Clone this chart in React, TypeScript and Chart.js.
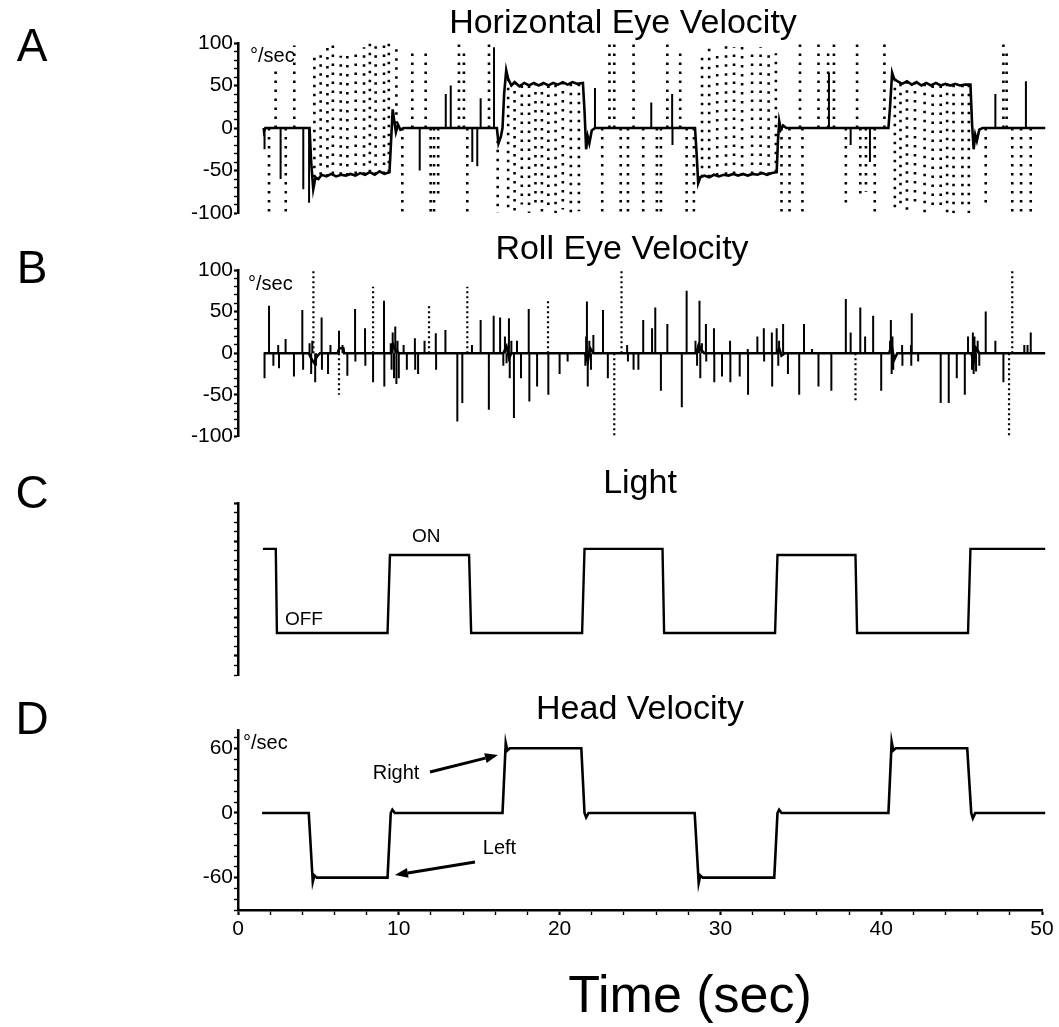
import React, { useEffect, useRef } from "react";
import { Chart, registerables } from "chart.js";

Chart.register(...registerables);

const FONT = "'Liberation Sans', Arial, Helvetica, sans-serif";

// ---------- shared time axis ----------
const timeMin = 0;
const timeMax = 50;
const timeTicks = [0, 2, 4, 6, 8, 10, 12, 14, 16, 18, 20, 22, 24, 26, 28, 30, 32, 34, 36, 38, 40, 42, 44, 46, 48, 50];
const timeLabels = [0, 10, 20, 30, 40, 50];

// ---------- A: horizontal eye velocity ----------
const eyeTicks = [-100, -90, -80, -70, -60, -50, -40, -30, -20, -10, 0, 10, 20, 30, 40, 50, 60, 70, 80, 90, 100];
const eyeLabels = [-100, -50, 0, 50, 100];

// slow-phase trace [t, deg/s]
const hSlow: [number, number][] = [
  [1.6, 0], [1.62, -4], [1.7, 0], [4.45, 0], [4.55, -40], [4.68, -72], [4.82, -58], [5.0, -60], [5.2, -55], [5.5, -57],
  [5.8, -54], [6.1, -57], [6.4, -55], [6.7, -56], [7.0, -54], [7.3, -56], [7.6, -53], [7.9, -55], [8.2, -52], [8.5, -55],
  [8.8, -51], [9.1, -54], [9.42, -52], [9.52, -15], [9.62, 22], [9.72, 8], [9.82, -5], [9.95, 4], [10.1, -2], [10.3, 0],
  [16.1, 0], [16.2, -18], [16.35, -10], [16.45, 0], [16.55, 40], [16.68, 68], [16.8, 58], [17.0, 50], [17.2, 54], [17.5, 49],
  [17.8, 53], [18.1, 50], [18.4, 53], [18.7, 50], [19.0, 53], [19.3, 50], [19.6, 53], [19.9, 51], [20.2, 54], [20.5, 51],
  [20.8, 54], [21.1, 52], [21.45, 53], [21.55, 20], [21.65, -25], [21.75, -10], [21.85, -18], [22.0, -3], [22.2, 0],
  [28.42, 0], [28.52, -30], [28.62, -65], [28.75, -58], [29.0, -56], [29.3, -58], [29.6, -55], [29.9, -57], [30.2, -55],
  [30.5, -56], [30.8, -54], [31.1, -56], [31.4, -54], [31.7, -56], [32.0, -54], [32.3, -55], [32.6, -53], [32.9, -55],
  [33.2, -53], [33.5, -52], [33.58, -15], [33.66, 8], [33.76, -2], [33.9, 3], [34.1, 0], [40.45, 0], [40.55, 25], [40.68, 65],
  [40.8, 58], [41.0, 55], [41.3, 52], [41.6, 55], [41.9, 51], [42.2, 54], [42.5, 50], [42.8, 53], [43.1, 50], [43.4, 53],
  [43.7, 50], [44.0, 52], [44.3, 50], [44.6, 52], [44.9, 50], [45.2, 51], [45.55, 51], [45.65, 5], [45.75, -25], [45.85, -8],
  [45.95, -15], [46.1, -2], [46.3, 0], [50.2, 0],
];

// fast solid saccades from zero [t, peak]
const hSolid: [number, number][] = [
  [1.65, -25], [2.65, -60], [4.06, -72], [4.42, -88], [11.3, -50], [12.92, 40], [13.23, 50], [14.57, -40], [14.88, -45],
  [15.09, 35], [15.92, 95], [22.2, 47], [25.7, 30], [27.0, 40], [27.02, -20], [36.75, 65], [38.1, -20], [39.3, -40],
  [47.1, 40], [49.0, 55],
];

// quick phases drawn dotted [t, from, to]
const hQuick: [number, number, number][] = [
  [1.93, 0, -100], [2.34, 0, 68], [2.97, 0, -100], [3.5, 0, 97],
  [4.75, -58, 88], [5.14, -55, 90], [5.56, -57, 95], [5.9, -54, 100], [6.39, -55, 85], [6.8, -56, 88], [7.32, -54, 92],
  [7.84, -55, 95], [8.2, -52, 100], [8.56, -55, 100], [9.08, -54, 100], [9.38, -52, 100],
  [9.85, 5, 100], [10.22, 0, -100], [10.84, 0, 95], [11.67, 0, 95], [11.98, 0, -100], [12.19, 0, -100], [12.45, 0, -80],
  [13.74, 0, 100], [14.05, 0, 95], [14.26, 0, -100], [15.61, 0, 100], [16.15, -15, -100],
  [16.8, 58, -95], [17.2, 54, -98], [17.65, 50, -90], [18.1, 50, -100], [18.5, 53, -95], [18.9, 53, -100], [19.3, 50, -92],
  [19.75, 51, -100], [20.2, 54, -96], [20.7, 52, -100], [21.2, 52, -98],
  [22.65, 0, -100], [23.1, 0, 100], [23.4, 0, 100], [23.8, 0, -100], [24.25, 0, -100], [24.6, 0, 100], [25.2, 0, -100],
  [26.05, 0, -100], [26.3, 0, -100], [26.7, 0, 100], [27.5, 0, 90], [27.9, 0, -100], [28.35, 0, -100],
  [28.86, -58, 85], [29.3, -58, 100], [29.8, -56, 90], [30.35, -55, 100], [30.85, -54, 95], [31.35, -56, 100],
  [31.97, -54, 92], [32.5, -54, 95], [33.0, -55, 88], [33.45, -52, 88],
  [33.8, 0, -100], [34.3, 0, -100], [34.95, 0, 100], [35.1, 0, -100], [36.1, 0, 100], [36.7, 0, 95], [37.06, 0, 100],
  [37.8, 0, -95], [38.5, 0, 100], [38.7, 0, -80], [39.05, 0, -75], [39.6, 0, -100], [40.2, 0, 100],
  [40.85, 58, -100], [41.2, 52, -95], [41.6, 55, -100], [42.1, 54, -92], [42.7, 52, -100], [43.2, 50, -98], [43.7, 50, -95],
  [44.1, 52, -100], [44.5, 51, -100], [45.05, 51, -95], [45.45, 51, -100],
  [46.5, 0, -95], [47.6, 0, 100], [47.8, 0, 95], [48.15, 0, -100], [48.7, 0, -100], [49.3, 0, -100],
];

// ---------- B: roll eye velocity ----------
const rBase: [number, number][] = [
  [1.6, 0], [4.4, 0], [4.6, -8], [4.75, -12], [4.9, -4], [5.1, 0], [6.2, 0], [6.3, 6], [6.55, 6], [6.6, 0],
  [9.5, 0], [9.65, 10], [9.8, 4], [10.0, 0], [16.5, 0], [16.7, 8], [16.85, -6], [17.0, 0], [21.6, 0], [21.75, -10],
  [21.9, 6], [22.1, 0], [28.5, 0], [28.65, 10], [28.8, 4], [29.0, 0], [33.5, 0], [33.65, 6], [33.8, -3], [34.0, 0],
  [40.5, 0], [40.65, 10], [40.8, -8], [41.0, 0], [45.6, 0], [45.75, -10], [45.9, 6], [46.1, 0], [50.2, 0],
];

const rSolid: [number, number][] = [
  [1.65, -30], [1.93, 57], [2.2, -15], [2.5, 10], [2.55, -18], [2.96, 17], [3.48, -28], [4.0, 52], [4.05, -20],
  [4.45, 12], [4.55, -25], [4.62, 15], [4.8, -35], [4.85, -15], [5.2, 43], [5.22, -20], [5.6, -25], [5.75, 10],
  [6.28, 27], [6.5, 10], [6.8, -27], [7.28, 53], [7.3, -10], [7.9, 30], [7.92, -15], [8.4, -35], [9.08, 63], [9.1, -40],
  [9.5, 12], [9.55, -20], [9.62, 25], [9.7, -30], [9.78, 32], [9.85, -37], [9.92, 15], [10.0, -30], [10.3, 10],
  [10.5, -20], [11.0, 18], [11.02, -20], [11.2, -25], [11.6, 15], [12.3, 24], [12.32, -20], [12.9, 28], [13.64, -82],
  [13.95, -60], [14.55, 10], [15.09, 40], [15.6, -68], [15.9, 45], [16.3, 43], [16.5, -15], [16.6, 20], [16.7, -12],
  [16.85, 42], [16.9, -30], [17.0, 15], [17.16, -78], [17.35, 15], [17.6, -30], [18.08, 53], [18.12, -58], [18.6, -40],
  [19.3, -50], [20.0, -25], [20.5, -10], [21.6, -15], [21.65, 20], [21.7, 62], [21.75, -40], [21.85, 15], [21.95, -20],
  [22.1, 22], [22.7, 52], [23.0, -30], [24.2, 10], [24.25, -10], [24.6, -20], [24.9, -20], [25.2, 40], [25.75, 30],
  [25.95, 55], [26.3, -45], [26.7, 35], [27.6, -65], [27.9, 75], [28.45, 15], [28.55, -15], [28.62, 10], [28.7, 63],
  [28.75, -30], [28.85, 12], [29.1, 35], [29.12, -10], [29.6, 30], [29.62, -35], [30.1, -28], [30.6, 15], [30.62, -35],
  [31.2, -28], [31.7, 5], [31.72, -50], [32.3, 20], [32.7, 30], [32.72, -10], [33.2, 25], [33.22, -40], [33.5, 30],
  [33.6, -15], [33.65, 15], [33.9, 35], [34.2, -25], [34.9, -50], [35.2, 35], [35.7, 5], [36.1, -40], [36.9, -45],
  [37.8, 65], [38.1, 25], [38.7, 55], [39.0, 20], [39.5, 45], [40.0, -45], [40.55, 15], [40.6, 40], [40.65, -25],
  [40.7, 20], [40.75, -20], [41.3, 10], [41.32, -15], [41.85, 10], [41.87, -15], [41.9, 48], [42.3, -10], [43.7, -60],
  [44.2, -60], [44.7, -30], [45.2, -50], [45.4, 20], [45.65, -20], [45.7, 25], [45.75, -25], [45.8, 20], [45.9, -22],
  [46.0, 15], [46.1, -15], [46.5, 50], [47.1, 15], [47.6, -35], [48.9, 10], [49.1, 10], [49.3, 25],
];

const rQuick: [number, number][] = [
  [4.69, 100], [6.28, -50], [8.4, 80], [11.88, 60], [14.26, 80], [19.28, 65], [23.4, -100], [23.85, 100],
  [38.4, -60], [47.95, -100], [48.15, 100],
];

// ---------- C: light ----------
const LIGHT_ON = 2.8;
const LIGHT_ON_LOW = 2.64;
const LIGHT_OFF = 0.6;
const light: [number, number][] = [
  [1.55, LIGHT_ON], [2.35, LIGHT_ON], [2.42, LIGHT_OFF], [9.3, LIGHT_OFF], [9.45, LIGHT_ON_LOW], [14.37, LIGHT_ON_LOW],
  [14.5, LIGHT_OFF], [21.4, LIGHT_OFF], [21.55, LIGHT_ON], [26.4, LIGHT_ON], [26.5, LIGHT_OFF], [33.4, LIGHT_OFF],
  [33.55, LIGHT_ON_LOW], [38.4, LIGHT_ON_LOW], [38.5, LIGHT_OFF], [45.4, LIGHT_OFF], [45.55, LIGHT_ON], [50.2, LIGHT_ON],
];
const lightTicks = [-0.5, -0.25, 0, 0.25, 0.5, 0.75, 1, 1.25, 1.5, 1.75, 2, 2.25, 2.5, 2.75, 3, 3.25, 3.5, 3.75, 4];
const lightMajor = [0, 1, 2, 3, 4];
const lightNotes = [
  { text: "ON", t: 11.7, v: 3.12 },
  { text: "OFF", t: 4.1, v: 0.95 },
];

// ---------- D: head velocity ----------
const head: [number, number][] = [
  [1.5, 0], [4.4, 0], [4.65, -64], [4.75, -58], [4.9, -60], [9.3, -60], [9.5, 0], [9.6, 3], [9.75, 0], [16.45, 0],
  [16.65, 65], [16.75, 58], [16.9, 60], [21.35, 60], [21.55, 0], [21.65, -4], [21.8, 0], [28.4, 0], [28.65, -65],
  [28.75, -58], [28.9, -60], [33.35, -60], [33.55, 0], [33.65, 3], [33.8, 0], [40.45, 0], [40.65, 66], [40.75, 58],
  [40.9, 60], [45.35, 60], [45.6, 0], [45.7, -5], [45.85, 0], [50.2, 0],
];
const headTicks = [-90, -80, -70, -60, -50, -40, -30, -20, -10, 0, 10, 20, 30, 40, 50, 60, 70];
const headLabels = [-60, 0, 60];
const headNotes = [
  { text: "Right", t: 9.83, v: 37 },
  { text: "Left", t: 16.26, v: -32.5 },
];
const headArrows = [
  { from: [11.94, 38], to: [16.17, 53.8] },
  { from: [14.74, -45.5], to: [9.76, -57.5] },
];

// ---------- helpers ----------
const pts = (arr: [number, number][]) => arr.map(([x, y]) => ({ x, y }));
const sticks = (arr: [number, number, number][]) => {
  const out: any[] = [];
  arr.forEach(([t, a, b]) => {
    out.push({ x: t, y: a }, { x: t, y: b }, { x: t, y: null });
  });
  return out;
};
const fromZero = (arr: [number, number][]) => sticks(arr.map(([t, v]) => [t, 0, v] as [number, number, number]));

const W = 1059;
const LEFT = 238;
const RIGHT = 1042;
const TICK_FONT = 21;

const yAxis = (min: number, max: number, ticks: number[], major: number[], showLabels: boolean) => ({
  type: "linear",
  min,
  max,
  afterFit: (s: any) => {
    s.width = LEFT;
  },
  afterBuildTicks: (s: any) => {
    s.ticks = ticks.map((v) => ({ value: v }));
  },
  ticks: {
    autoSkip: false,
    padding: 1,
    color: "#000",
    font: { family: FONT, size: TICK_FONT },
    callback: (v: any) => (showLabels && major.includes(v) ? String(v) : ""),
  },
  grid: {
    drawOnChartArea: false,
    drawTicks: true,
    tickLength: 4,
    tickColor: "#000",
    tickWidth: (c: any) => (c.tick && major.includes(c.tick.value) ? 2.2 : 1.4),
  },
  border: { display: true, color: "#000", width: 2.5 },
});

const hiddenX = { type: "linear", min: timeMin, max: timeMax, display: false };

const visibleX = {
  type: "linear",
  min: timeMin,
  max: timeMax,
  afterFit: (s: any) => {
    s.height = 40;
  },
  afterBuildTicks: (s: any) => {
    s.ticks = timeTicks.map((v) => ({ value: v }));
  },
  ticks: {
    autoSkip: false,
    maxRotation: 0,
    padding: 2,
    color: "#000",
    font: { family: FONT, size: TICK_FONT },
    callback: (v: any) => (timeLabels.includes(v) ? String(v) : ""),
  },
  grid: {
    drawOnChartArea: false,
    drawTicks: true,
    tickLength: 5,
    tickColor: "#000",
    tickWidth: (c: any) => (c.tick && timeLabels.includes(c.tick.value) ? 2.2 : 1.4),
  },
  border: { display: true, color: "#000", width: 2.5 },
};

const lineDs = (data: any[], width: number, dash: number[] = []) => ({
  data,
  borderColor: "#000",
  borderWidth: width,
  borderDash: dash,
  pointRadius: 0,
  tension: 0,
  spanGaps: false,
  clip: false,
});

const notesPlugin = (notes: { text: string; t: number; v: number }[], arrows: { from: number[]; to: number[] }[], size: number) => ({
  id: "notes",
  afterDatasetsDraw(chart: any) {
    const { ctx, scales } = chart;
    const x = scales.x;
    const y = scales.y;
    ctx.save();
    ctx.fillStyle = "#000";
    ctx.strokeStyle = "#000";
    ctx.font = `${size}px ${FONT}`;
    ctx.textAlign = "center";
    ctx.textBaseline = "middle";
    notes.forEach((n) => ctx.fillText(n.text, x.getPixelForValue(n.t), y.getPixelForValue(n.v)));
    arrows.forEach((a) => {
      const x1 = x.getPixelForValue(a.from[0]);
      const y1 = y.getPixelForValue(a.from[1]);
      const x2 = x.getPixelForValue(a.to[0]);
      const y2 = y.getPixelForValue(a.to[1]);
      const ang = Math.atan2(y2 - y1, x2 - x1);
      const hl = 13;
      const hw = 5;
      const bx = x2 - hl * Math.cos(ang);
      const by = y2 - hl * Math.sin(ang);
      ctx.lineWidth = 3;
      ctx.beginPath();
      ctx.moveTo(x1, y1);
      ctx.lineTo(bx, by);
      ctx.stroke();
      ctx.beginPath();
      ctx.moveTo(x2, y2);
      ctx.lineTo(bx + hw * Math.sin(ang), by - hw * Math.cos(ang));
      ctx.lineTo(bx - hw * Math.sin(ang), by + hw * Math.cos(ang));
      ctx.closePath();
      ctx.fill();
    });
    ctx.restore();
  },
});

const baseOptions = (padding: any, scales: any) => ({
  animation: false,
  responsive: false,
  devicePixelRatio: 1,
  events: [],
  layout: { padding },
  plugins: { legend: { display: false }, tooltip: { enabled: false }, title: { display: false } },
  scales,
});

const PANELS = [
  { top: 0, height: 230 },
  { top: 230, height: 220 },
  { top: 460, height: 230 },
  { top: 690, height: 262 },
];

function Text({ text, x, y, size, align = "center" }: { text: string; x: number; y: number; size: number; align?: string }) {
  return (
    <div
      style={{
        position: "absolute",
        left: x,
        top: y - size * 0.49,
        fontSize: size,
        lineHeight: 1,
        fontFamily: FONT,
        color: "#000",
        whiteSpace: "nowrap",
        transform: align === "center" ? "translateX(-50%)" : "none",
      }}
    >
      {text}
    </div>
  );
}

export default function App() {
  const refA = useRef<HTMLCanvasElement>(null);
  const refB = useRef<HTMLCanvasElement>(null);
  const refC = useRef<HTMLCanvasElement>(null);
  const refD = useRef<HTMLCanvasElement>(null);

  useEffect(() => {
    Chart.defaults.color = "#000";
    Chart.defaults.font.family = FONT;
    const charts: Chart[] = [];

    charts.push(
      new Chart(refA.current as HTMLCanvasElement, {
        type: "line",
        data: {
          datasets: [
            lineDs(sticks(hQuick), 2.6, [2.5, 6.5]),
            lineDs(fromZero(hSolid), 2),
            lineDs(pts(hSlow), 2.6),
          ],
        },
        options: baseOptions(
          { top: 43, bottom: PANELS[0].height - 213, left: 0, right: W - RIGHT },
          { x: hiddenX, y: yAxis(-100, 100, eyeTicks, eyeLabels, true) }
        ) as any,
      })
    );

    charts.push(
      new Chart(refB.current as HTMLCanvasElement, {
        type: "line",
        data: {
          datasets: [
            lineDs(fromZero(rQuick), 2.2, [2, 3]),
            lineDs(fromZero(rSolid), 2),
            lineDs(pts(rBase), 2.6),
          ],
        },
        options: baseOptions(
          { top: 270 - PANELS[1].top, bottom: PANELS[1].top + PANELS[1].height - 439, left: 0, right: W - RIGHT },
          { x: hiddenX, y: yAxis(-100, 100, eyeTicks, eyeLabels, true) }
        ) as any,
      })
    );

    charts.push(
      new Chart(refC.current as HTMLCanvasElement, {
        type: "line",
        data: { datasets: [lineDs(pts(light), 2.4)] },
        options: baseOptions(
          { top: 503 - PANELS[2].top, bottom: PANELS[2].top + PANELS[2].height - 675, left: 0, right: W - RIGHT },
          { x: hiddenX, y: yAxis(-0.5, 4, lightTicks, lightMajor, false) }
        ) as any,
        plugins: [notesPlugin(lightNotes, [], 19)],
      })
    );

    charts.push(
      new Chart(refD.current as HTMLCanvasElement, {
        type: "line",
        data: { datasets: [lineDs(pts(head), 2.6)] },
        options: baseOptions(
          { top: 730 - PANELS[3].top, bottom: PANELS[3].top + PANELS[3].height - 910 - 40, left: 0, right: W - RIGHT },
          { x: visibleX, y: yAxis(-90, 77, headTicks, headLabels, true) }
        ) as any,
        plugins: [notesPlugin(headNotes, headArrows, 20)],
      })
    );

    return () => charts.forEach((c) => c.destroy());
  }, []);

  const canvasStyle = (i: number): React.CSSProperties => ({
    position: "absolute",
    left: 0,
    top: PANELS[i].top,
    width: W,
    height: PANELS[i].height,
  });

  return (
    <div style={{ position: "absolute", left: 0, top: 0, width: W, height: 1027, background: "#fff", overflow: "hidden" }}>
      <canvas ref={refA} width={W} height={PANELS[0].height} style={canvasStyle(0)} />
      <canvas ref={refB} width={W} height={PANELS[1].height} style={canvasStyle(1)} />
      <canvas ref={refC} width={W} height={PANELS[2].height} style={canvasStyle(2)} />
      <canvas ref={refD} width={W} height={PANELS[3].height} style={canvasStyle(3)} />

      <Text text="A" x={32} y={45} size={46} />
      <Text text="B" x={32} y={267} size={46} />
      <Text text="C" x={32} y={492} size={46} />
      <Text text="D" x={32} y={718} size={46} />

      <Text text="Horizontal Eye Velocity" x={623} y={21} size={34} />
      <Text text="Roll Eye Velocity" x={622} y={247} size={34} />
      <Text text="Light" x={640} y={481} size={34} />
      <Text text="Head Velocity" x={640} y={707} size={34} />

      <Text text="°/sec" x={250} y={55} size={20} align="left" />
      <Text text="°/sec" x={248} y={283} size={20} align="left" />
      <Text text="°/sec" x={243} y={742} size={20} align="left" />

      <Text text="Time (sec)" x={690} y={993} size={52} />
    </div>
  );
}
